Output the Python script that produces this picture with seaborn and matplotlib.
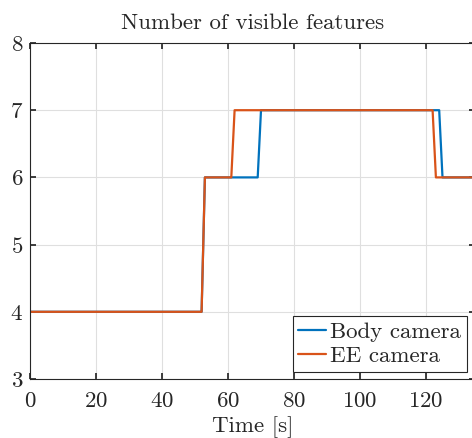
import matplotlib
matplotlib.use("Agg")
import matplotlib.pyplot as plt
import seaborn as sns
import pandas as pd

body_t = [0, 52, 53, 69, 70, 124, 125, 135]
body_v = [4, 4, 6, 6, 7, 7, 6, 6]
ee_t = [0, 52, 53, 61, 62, 122, 123, 135]
ee_v = [4, 4, 6, 6, 7, 7, 6, 6]
series_names = ["Body camera", "EE camera"]
colors = ["#0072BD", "#D95319"]
x_ticks = [0, 20, 40, 60, 80, 100, 120]
y_ticks = [3, 4, 5, 6, 7, 8]

df = pd.concat([
    pd.DataFrame({"t": body_t, "v": body_v, "s": series_names[0]}),
    pd.DataFrame({"t": ee_t, "v": ee_v, "s": series_names[1]}),
])

sns.set_theme(style="whitegrid")
plt.rcParams["font.family"] = ["cmr10", "DejaVu Serif"]
plt.rcParams["axes.formatter.use_mathtext"] = True
plt.rcParams["mathtext.fontset"] = "cm"

XMAX = 135
ax_w = XMAX * 3.3
fig = plt.figure(figsize=(4.72, 4.38), dpi=100)
ax = fig.add_axes([30/472, 59/438, ax_w/472, 336/438])
sns.lineplot(data=df, x="t", y="v", hue="s", palette=colors, estimator=None,
             sort=False, linewidth=1.6, ax=ax)
ax.set_xlim(0, XMAX)
ax.set_ylim(3, 8)
ax.set_xticks(x_ticks)
ax.set_yticks(y_ticks)
ax.set_facecolor("white")
ax.grid(True, color="#dfdfdf", linewidth=0.8)
for s in ax.spines.values():
    s.set_color("#262626")
    s.set_linewidth(0.8)
ax.tick_params(direction="in", length=4, color="#262626", labelsize=16.5,
               labelcolor="#262626", top=True, right=True,
               bottom=True, left=True)
ax.tick_params(axis="x", pad=9)
ax.tick_params(axis="y", pad=5)
ax.set_xlabel("Time [s]", fontsize=16.5, color="#262626", labelpad=4)
ax.set_ylabel("")
ax.set_title("Number of visible features", fontsize=16.5, color="#262626", pad=10)
leg = ax.legend(loc="lower right", bbox_to_anchor=(437/ax_w, 7/336),
                fontsize=16.5, frameon=True, fancybox=False, edgecolor="#262626",
                framealpha=1, handlelength=1.2, handletextpad=0.2,
                borderpad=0.25, labelspacing=0.2, borderaxespad=0)
leg.get_frame().set_linewidth(0.8)
fig.savefig("out.png", dpi=100)
